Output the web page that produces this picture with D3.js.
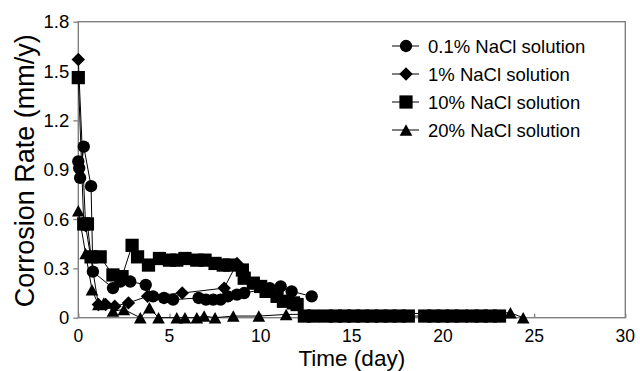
<!DOCTYPE html>
<html lang="en">
<head>
<meta charset="UTF-8">
<title>Corrosion Rate</title>
<script src="https://cdn.jsdelivr.net/npm/d3@7/dist/d3.min.js"></script>
<style>
  body { margin: 0; background: #fff; }
  text { font-family: "Liberation Sans", Arial, sans-serif; fill: #000; }
</style>
</head>
<body>
<svg width="640" height="371" id="mainsvg"></svg>
<script>
// 0.1% NaCl (circles)
const t01 = [0, 0.05, 0.1, 0.3, 0.7, 0.8, 1.9, 2.3, 2.85, 3.7, 4.1, 4.7, 5.2, 6.6, 7.0, 7.4, 7.8, 8.2, 8.7, 9.1, 10.5, 11.1, 11.7, 12.8];
const r01 = [0.95, 0.91, 0.85, 1.04, 0.80, 0.28, 0.18, 0.22, 0.22, 0.20, 0.13, 0.12, 0.11, 0.12, 0.11, 0.11, 0.11, 0.13, 0.14, 0.15, 0.18, 0.19, 0.16, 0.13];
// 1% NaCl (diamonds)
const t1 = [0, 0.4, 1.1, 1.5, 2.0, 2.75, 3.8, 5.7, 8.0, 8.7];
const r1 = [1.57, 0.56, 0.08, 0.08, 0.07, 0.09, 0.13, 0.15, 0.18, 0.33];
// 10% NaCl (squares)
const t10 = [0, 0.3, 0.5, 0.7, 1.2, 1.9, 2.4, 2.95, 3.25, 3.85, 4.45, 5.0, 5.4, 5.85, 6.5, 6.95, 7.5, 7.95, 8.3, 9.0, 9.1, 9.6, 10.0, 10.3, 10.9, 11.25, 11.8, 12.0,
             12.4, 12.9, 13.6, 14.1, 14.6, 15.1, 15.6, 16.1, 16.6, 17.1, 17.6, 18.1, 19.0, 19.5, 20.0, 20.5, 21.0, 21.6, 22.1, 22.6, 23.1];
const r10 = [1.46, 0.57, 0.57, 0.37, 0.37, 0.26, 0.25, 0.44, 0.37, 0.32, 0.36, 0.35, 0.35, 0.36, 0.35, 0.35, 0.33, 0.32, 0.32, 0.29, 0.24, 0.21, 0.19, 0.16, 0.13, 0.10, 0.09, 0.08,
             0.01, 0.01, 0.01, 0.01, 0.01, 0.01, 0.01, 0.01, 0.01, 0.01, 0.01, 0.01, 0.01, 0.01, 0.01, 0.01, 0.01, 0.01, 0.01, 0.01, 0.01];
// 20% NaCl (triangles)
const t20 = [0, 0.4, 0.75, 1.1, 1.4, 1.9, 2.5, 3.4, 3.9, 4.4, 5.4, 5.85, 6.5, 6.9, 7.5, 8.5, 9.9, 11.4, 23.7, 24.4];
const r20 = [0.65, 0.39, 0.17, 0.08, 0.09, 0.04, 0.05, 0.0, 0.06, 0.0, 0.0, 0.0, 0.0, 0.01, 0.0, 0.01, 0.01, 0.02, 0.03, 0.0];

const seriesNames = ['0.1% NaCl solution', '1% NaCl solution', '10% NaCl solution', '20% NaCl solution'];
const xTicks = [0, 5, 10, 15, 20, 25, 30];
const xTickLabels = ['0', '5', '10', '15', '20', '25', '30'];
const yTicks = [0, 0.3, 0.6, 0.9, 1.2, 1.5, 1.8];
const yTickLabels = ['0', '0.3', '0.6', '0.9', '1.2', '1.5', '1.8'];

const svg = d3.select('#mainsvg');
const width = +svg.attr('width');
const height = +svg.attr('height');
const margin = { top: 21.7, bottom: 53.3, left: 78.3, right: 14.7 };
const innerWidth = width - margin.left - margin.right;
const innerHeight = height - margin.top - margin.bottom;

const xScale = d3.scaleLinear().domain([0, 30]).range([0, innerWidth]);
const yScale = d3.scaleLinear().domain([0, 1.8]).range([innerHeight, 0]);

const g = svg.append('g').attr('transform', `translate(${margin.left},${margin.top})`);

const axisColor = '#808080';

// frame
g.append('rect')
  .attr('x', 0).attr('y', 0)
  .attr('width', innerWidth).attr('height', innerHeight)
  .attr('fill', 'none').attr('stroke', axisColor).attr('stroke-width', 1.4);

// axes (tick marks only, labels drawn below)
const xAxis = d3.axisBottom(xScale).tickValues(xTicks).tickSize(-4).tickFormat('');
const xg = g.append('g').attr('transform', `translate(0,${innerHeight})`).call(xAxis);
const yAxis = d3.axisLeft(yScale).tickValues(yTicks).tickSize(5).tickFormat('');
const yg = g.append('g').call(yAxis);
[xg, yg].forEach(a => {
  a.select('.domain').remove();
  a.selectAll('.tick line').attr('stroke', axisColor).attr('stroke-width', 1.3);
  a.selectAll('.tick text').remove();
});

g.selectAll('text.xl').data(xTicks).enter().append('text')
  .attr('class', 'xl')
  .attr('x', d => xScale(d)).attr('y', innerHeight + 24)
  .attr('text-anchor', 'middle').attr('font-size', 17.5)
  .text((d, i) => xTickLabels[i]);
g.selectAll('text.yl').data(yTicks).enter().append('text')
  .attr('class', 'yl')
  .attr('x', -9).attr('y', d => yScale(d)).attr('dy', '0.36em')
  .attr('text-anchor', 'end').attr('font-size', 18.5)
  .text((d, i) => yTickLabels[i]);

// axis titles
g.append('text').text('Time (day)')
  .attr('x', innerWidth / 2).attr('y', innerHeight + 48.5)
  .attr('text-anchor', 'middle').attr('font-size', 22.5);
svg.append('text').text('Corrosion Rate (mm/y)')
  .attr('transform', `translate(34,${margin.top + innerHeight / 2 + 1}) rotate(-90)`)
  .attr('text-anchor', 'middle').attr('font-size', 27);

// marker shapes
const diamond = { draw(ctx, size) { const r = Math.sqrt(size / 2); ctx.moveTo(0, -r); ctx.lineTo(r, 0); ctx.lineTo(0, r); ctx.lineTo(-r, 0); ctx.closePath(); } };
const triangle = { draw(ctx, size) { const h = Math.sqrt(size * 2); ctx.moveTo(0, -h / 2); ctx.lineTo(h * 0.55, h / 2); ctx.lineTo(-h * 0.55, h / 2); ctx.closePath(); } };
const shapes = [
  d3.symbol(d3.symbolCircle, 120),
  d3.symbol(diamond, 90),
  d3.symbol(d3.symbolSquare, 175),
  d3.symbol(triangle, 66)
];

const series = [
  t01.map((t, i) => [t, r01[i]]),
  t1.map((t, i) => [t, r1[i]]),
  t10.map((t, i) => [t, r10[i]]),
  t20.map((t, i) => [t, r20[i]])
];

const line = d3.line().x(d => xScale(d[0])).y(d => yScale(d[1]));

series.forEach((pts, k) => {
  const sg = g.append('g');
  sg.append('path').attr('d', line(pts))
    .attr('fill', 'none').attr('stroke', '#000').attr('stroke-width', 1);
  sg.selectAll('path.m').data(pts).enter().append('path')
    .attr('class', 'm')
    .attr('d', shapes[k])
    .attr('transform', d => `translate(${xScale(d[0])},${yScale(d[1])})`)
    .attr('fill', '#000');
});

// legend
const legend = svg.append('g').attr('transform', 'translate(392,46)');
seriesNames.forEach((name, k) => {
  const lg = legend.append('g').attr('transform', `translate(0,${k * 28})`);
  lg.append('line').attr('x1', 0).attr('x2', 27).attr('y1', 0).attr('y2', 0)
    .attr('stroke', '#000').attr('stroke-width', 1);
  lg.append('path').attr('d', shapes[k]).attr('transform', 'translate(14,0)').attr('fill', '#000');
  lg.append('text').text(name).attr('x', 36).attr('y', 0).attr('dy', '0.36em').attr('font-size', 18.5);
});
</script>
</body>
</html>
